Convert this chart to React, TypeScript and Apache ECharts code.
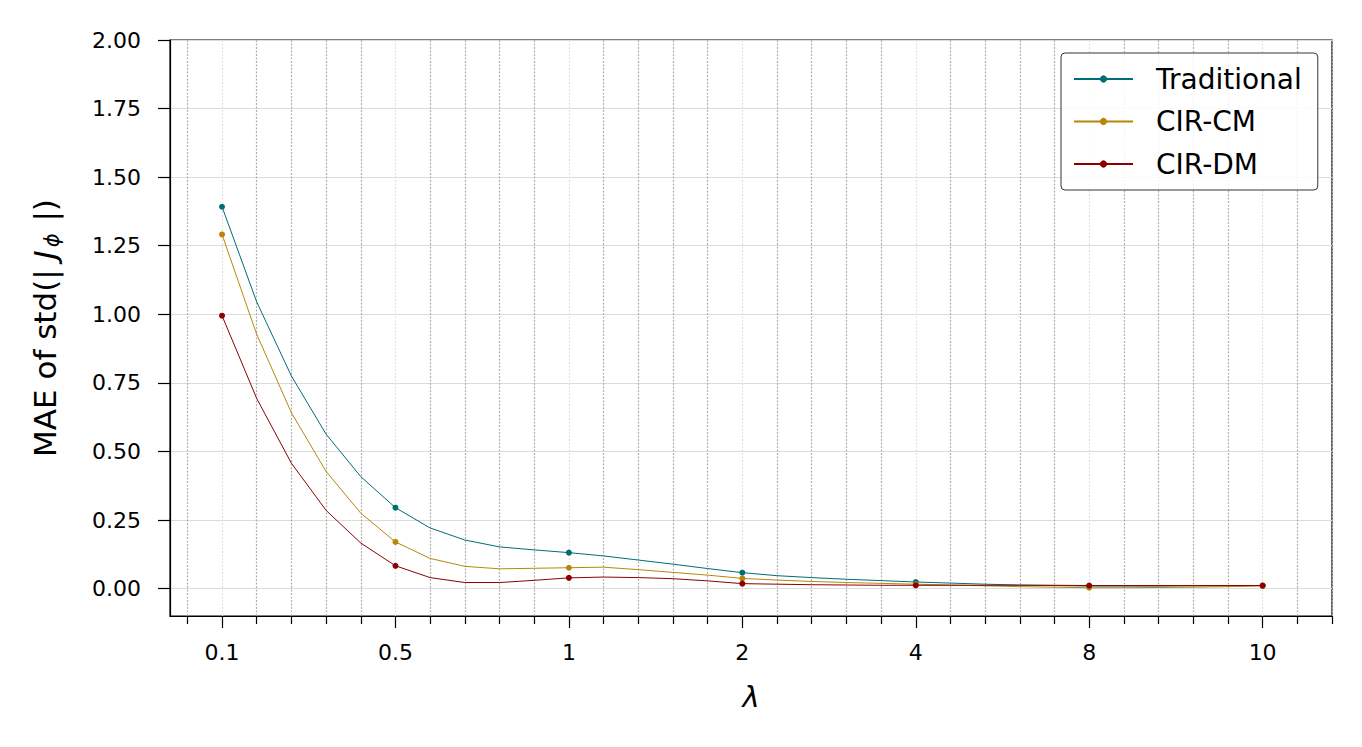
import React, { useEffect, useRef } from "react";
import * as echarts from "echarts";

// λ values shown as tick labels at every 5th sample index
const tickLabels = ["0.1", "0.5", "1", "2", "4", "8", "10"];
const majorIdx = [0, 5, 10, 15, 20, 25, 30];
const minorIdx = [-1, 1, 2, 3, 4, 6, 7, 8, 9, 11, 12, 13, 14, 16, 17, 18, 19, 21, 22, 23, 24, 26, 27, 28, 29, 31, 32];
const yTicks = [0, 0.25, 0.5, 0.75, 1.0, 1.25, 1.5, 1.75, 2.0];

const traditional = [
  1.392, 1.045, 0.775, 0.563, 0.408, 0.295, 0.221, 0.177, 0.152, 0.141,
  0.131, 0.119, 0.104, 0.089, 0.073, 0.058, 0.047, 0.040, 0.034, 0.029,
  0.024, 0.020, 0.016, 0.013, 0.011, 0.009, 0.009, 0.009, 0.010, 0.010, 0.011,
];
const cirCM = [
  1.291, 0.927, 0.641, 0.427, 0.275, 0.170, 0.110, 0.081, 0.072, 0.074,
  0.076, 0.078, 0.069, 0.059, 0.049, 0.037, 0.031, 0.026, 0.022, 0.019,
  0.016, 0.013, 0.010, 0.007, 0.005, 0.003, 0.003, 0.004, 0.005, 0.007, 0.010,
];
const cirDM = [
  0.995, 0.693, 0.457, 0.285, 0.166, 0.083, 0.040, 0.022, 0.022, 0.030,
  0.039, 0.042, 0.040, 0.036, 0.028, 0.018, 0.016, 0.014, 0.013, 0.012,
  0.012, 0.012, 0.012, 0.012, 0.012, 0.011, 0.011, 0.011, 0.011, 0.011, 0.011,
];

const seriesNames = ["Traditional", "CIR-CM", "CIR-DM"];
const seriesColors = ["#006D77", "#B8860B", "#8B0000"];
const seriesValues = [traditional, cirCM, cirDM];

const FONT = "DejaVu Sans";

export default function App() {
  const ref = useRef<HTMLDivElement>(null);
  useEffect(() => {
    if (!ref.current) return;
    const chart = echarts.init(ref.current, null, { renderer: "svg" });
    const labelFor = (v: number) => {
      const k = majorIdx.indexOf(Math.round(v));
      return k >= 0 ? tickLabels[k] : "";
    };
    chart.setOption({
      animation: false,
      backgroundColor: "#fff",
      textStyle: { fontFamily: FONT },
      grid: {
        left: 170,
        right: 30,
        top: 40,
        bottom: 131,
        show: true,
        borderColor: "#000",
        borderWidth: 1.2,
        backgroundColor: "transparent",
      },
      legend: {
        left: 1061,
        top: 53,
        orient: "vertical",
        itemWidth: 59,
        itemHeight: 9,
        itemGap: 12.5,
        padding: [11, 16, 11, 12],
        backgroundColor: "rgba(255,255,255,0.85)",
        borderColor: "#333",
        borderWidth: 1,
        borderRadius: 4,
        selectedMode: false,
        data: seriesNames,
        textStyle: {
          fontFamily: FONT,
          fontSize: 28,
          color: "#000",
          lineHeight: 30,
          padding: [0, 0, 0, 18],
        },
      },
      xAxis: [
        {
          type: "value",
          min: -1.5,
          max: 32,
          position: "bottom",
          name: "λ",
          nameLocation: "middle",
          nameGap: 66,
          nameTextStyle: { fontFamily: FONT, fontSize: 29, fontStyle: "italic", color: "#000" },
          axisLine: { show: true, onZero: false, lineStyle: { color: "#000", width: 1.2 } },
          axisTick: { show: true, customValues: majorIdx, length: 12, lineStyle: { color: "#000", width: 1.2 } },
          axisLabel: {
            show: true,
            customValues: majorIdx,
            formatter: labelFor,
            fontFamily: FONT,
            fontSize: 22,
            color: "#000",
            margin: 25,
          },
          splitLine: { show: true, lineStyle: { color: "#e2e2e2", width: 1.2, type: [2, 1.5] } },
        },
        {
          type: "value",
          min: -1.5,
          max: 32,
          position: "bottom",
          axisLine: { show: false, onZero: false },
          axisTick: { show: true, customValues: minorIdx, length: 8, lineStyle: { color: "#000", width: 1.2 } },
          axisLabel: { show: false },
          splitLine: { show: true, lineStyle: { color: "#b0b0b0", width: 1.2, type: [2, 1.5] } },
        },
      ],
      yAxis: {
        type: "value",
        min: -0.1,
        max: 2.0,
        name: "{n|MAE of std(| }{i|J}{s|ϕ}{n| |)}",
        nameLocation: "middle",
        nameGap: 108,
        nameRotate: 90,
        nameTextStyle: {
          rich: {
            n: { fontFamily: FONT, fontSize: 31, color: "#000" },
            i: { fontFamily: FONT, fontSize: 31, fontStyle: "italic", color: "#000" },
            s: { fontFamily: FONT, fontSize: 21, fontStyle: "italic", color: "#000", padding: [13, 2, 0, 3] },
          },
        },
        axisLine: { show: true, onZero: false, lineStyle: { color: "#000", width: 1.2 } },
        axisTick: { show: true, customValues: yTicks, length: 12, lineStyle: { color: "#000", width: 1.2 } },
        axisLabel: {
          show: true,
          customValues: yTicks,
          formatter: (v: number) => v.toFixed(2),
          fontFamily: FONT,
          fontSize: 22,
          color: "#000",
          margin: 29,
        },
        splitLine: { show: true, lineStyle: { color: "#dcdcdc", width: 1.2 } },
      },
      series: seriesNames.map((name, s) => ({
        name,
        type: "line",
        xAxisIndex: 0,
        color: seriesColors[s],
        symbol: "circle",
        showAllSymbol: true,
        symbolSize: 6,
        lineStyle: { width: 1, color: seriesColors[s] },
        itemStyle: { color: seriesColors[s], borderWidth: 0 },
        data: seriesValues[s].map((v, i) => ({
          value: [i, v],
          symbol: i % 5 === 0 ? "circle" : "none",
        })),
        z: 3 + s,
      })),
    });
    return () => chart.dispose();
  }, []);
  return (
    <div
      ref={ref}
      style={{ position: "fixed", left: 0, top: 0, width: 1362, height: 747, background: "#fff" }}
    />
  );
}
